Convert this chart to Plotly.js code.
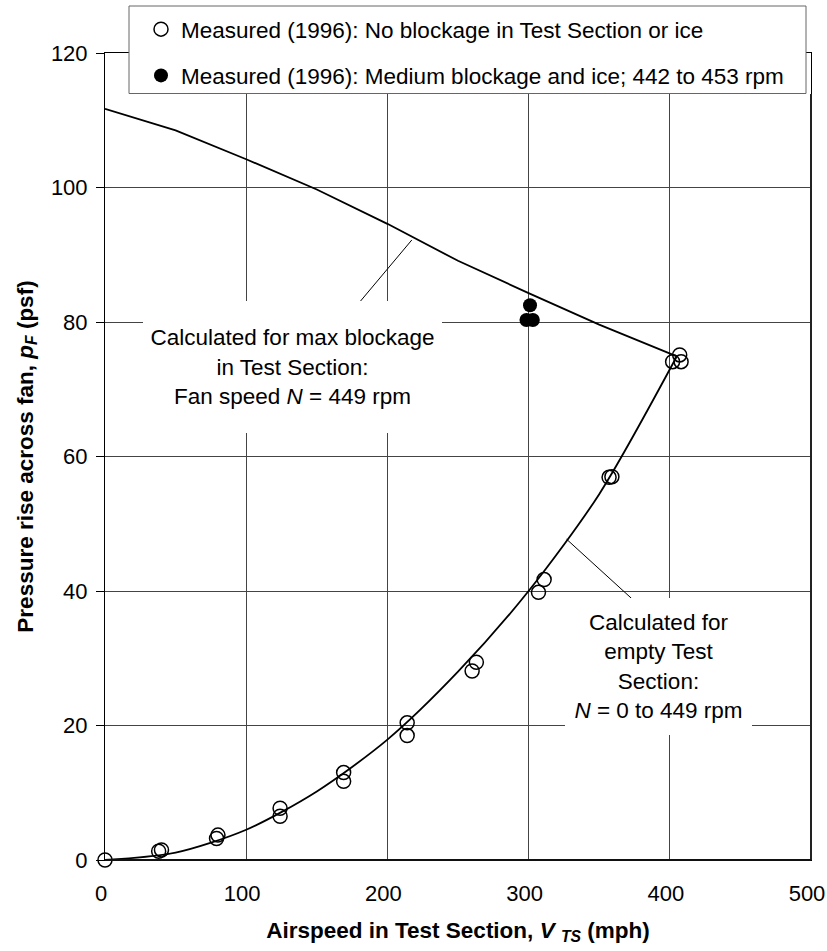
<!DOCTYPE html>
<html>
<head>
<meta charset="utf-8">
<script src="https://cdn.plot.ly/plotly-3.0.1.min.js"></script>
<style>html,body{margin:0;padding:0;background:#fff;}#chart{width:827px;height:951px;}</style>
</head>
<body>
<div id="chart"></div>
<script>
// ---- data ----
const blockX = [0, 50, 100, 150, 200, 250, 300, 350, 405];
const blockY = [111.7, 108.5, 104.2, 99.7, 94.6, 89.1, 84.3, 79.6, 74.9];

const emptyX = [0, 50, 100, 150, 200, 250, 300, 350, 405];
const emptyY = [0, 1.1, 4.5, 10.2, 17.9, 28.0, 40.0, 54.4, 74.9];

const openX = [0, 38, 40, 79, 80, 124, 124, 169, 169, 214, 214, 260, 263, 307, 311, 357, 359, 402, 407, 408];
const openY = [0, 1.3, 1.5, 3.2, 3.7, 7.7, 6.5, 13.0, 11.7, 20.4, 18.5, 28.1, 29.4, 39.8, 41.7, 56.9, 57.0, 74.1, 75.1, 74.1];

const filledX = [301, 298.5, 303];
const filledY = [82.5, 80.3, 80.3];

const openName = "Measured (1996): No blockage in Test Section or ice";
const filledName = "Measured (1996): Medium blockage and ice; 442 to 453 rpm";
const note1 = "Calculated for max blockage<br>in Test Section:<br>Fan speed <i>N</i> = 449 rpm";
const note2 = "Calculated for<br>empty Test<br>Section:<br><i>N</i> = 0 to 449 rpm";

// ---- layout helpers ----
const W = 827, H = 951;
const M = {l: 105, r: 16, t: 53, b: 91, autoexpand: false};
const PW = W - M.l - M.r, PH = H - M.t - M.b;
const px2paperX = p => (p - M.l) / PW;
const px2paperY = p => (H - M.b - p) / PH;
const FONT = "Liberation Sans, Arial, sans-serif";
const FS = 22.5;
const TFS = 22;

const traces = [
  {x: blockX, y: blockY, mode: "lines", line: {color: "#000", width: 1.8}, showlegend: false, hoverinfo: "skip"},
  {x: emptyX, y: emptyY, mode: "lines", line: {color: "#000", width: 1.8, shape: "spline", smoothing: 0.8}, showlegend: false, hoverinfo: "skip"},
  {x: openX, y: openY, mode: "markers", name: openName, legendgroup: "a", cliponaxis: false,
   marker: {symbol: "circle-open", size: 14, color: "#000", line: {width: 1.5, color: "#000"}}},
  {x: filledX, y: filledY, mode: "markers", name: filledName, legendgroup: "b", cliponaxis: false,
   marker: {symbol: "circle", size: 14, color: "#000"}}
];

const layout = {
  width: W, height: H,
  margin: M,
  paper_bgcolor: "#fff", plot_bgcolor: "#fff",
  font: {family: FONT, size: FS, color: "#000"},
  showlegend: true,
  legend: {
    x: px2paperX(141), xanchor: "left",
    y: px2paperY(8), yanchor: "top",
    bgcolor: "rgba(0,0,0,0)", borderwidth: 0,
    font: {family: FONT, size: FS, color: "#000"},
    tracegroupgap: 14
  },
  xaxis: {
    range: [0, 500], dtick: 100, tick0: 0,
    showgrid: true, gridcolor: "#444", gridwidth: 1,
    zeroline: false,
    showline: true, linecolor: "#000", linewidth: 1, mirror: true,
    ticks: "", ticklabelstandoff: 14, ticklabeloverflow: "allow", ticklabelshift: -4,
    tickfont: {family: FONT, size: TFS},
    title: {text: "<b>Airspeed in Test Section, <i>V</i> <sub><i>TS</i></sub> (mph)</b>",
            font: {family: FONT, size: FS}, standoff: 16}
  },
  yaxis: {
    range: [0, 120], dtick: 20, tick0: 0,
    showgrid: true, gridcolor: "#444", gridwidth: 1,
    zeroline: false,
    showline: true, linecolor: "#000", linewidth: 1, mirror: true,
    ticks: "outside", ticklen: 8, tickcolor: "#000", ticklabelstandoff: 4,
    ticklabeloverflow: "allow",
    tickfont: {family: FONT, size: TFS},
    title: {text: "<b>Pressure rise across fan, <i>p</i><sub><i>F</i></sub> (psf)</b>",
            font: {family: FONT, size: FS}, standoff: 11}
  },
  shapes: [
    // legend box
    {type: "rect", xref: "paper", yref: "paper",
     x0: px2paperX(129), x1: px2paperX(806), y0: px2paperY(93.5), y1: px2paperY(6),
     fillcolor: "#fff", line: {color: "#666", width: 1}, layer: "above"},
    // heavier right and bottom frame
    {type: "line", xref: "paper", yref: "paper", x0: 1, x1: 1, y0: 0, y1: px2paperY(94),
     line: {color: "#222", width: 2}, layer: "above"},
    {type: "line", xref: "paper", yref: "paper", x0: 0, x1: 1, y0: 0, y1: 0,
     line: {color: "#111", width: 2}, layer: "above"},
    // leader lines
    {type: "line", xref: "x", yref: "y", x0: 180.5, y0: 83.0, x1: 217.3, y1: 92.2,
     line: {color: "#000", width: 1}, layer: "above"},
    {type: "line", xref: "x", yref: "y", x0: 326.9, y0: 47.7, x1: 372.9, y1: 38.9,
     line: {color: "#000", width: 1}, layer: "above"}
  ],
  annotations: [
    {x: 132.5, y: 73.3, xref: "x", yref: "y", text: note1, showarrow: false,
     width: 299, height: 132, bgcolor: "#fff", borderpad: 0, borderwidth: 0,
     align: "center", valign: "middle", font: {family: FONT, size: FS, color: "#000"}},
    {x: 391.9, y: 28.8, xref: "x", yref: "y", text: note2, showarrow: false,
     width: 187, height: 137, bgcolor: "#fff", borderpad: 0, borderwidth: 0,
     align: "center", valign: "middle", font: {family: FONT, size: FS, color: "#000"}}
  ]
};

Plotly.newPlot("chart", traces, layout, {staticPlot: true, displayModeBar: false});
</script>
</body>
</html>
